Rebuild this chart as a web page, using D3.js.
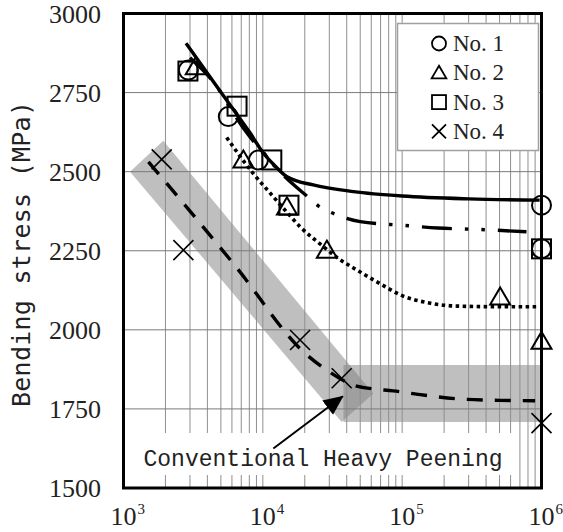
<!DOCTYPE html>
<html>
<head>
<meta charset="utf-8">
<script src="https://cdn.jsdelivr.net/npm/d3@7"></script>
<style>
	html, body { margin: 0; padding: 0; background: #fff; }
	svg { display: block; }
</style>
</head>
<body>
<div id="chartContainer"></div>
<script>
"use strict";

// cycles (x) and bending stress in MPa (y)
var no1Points = [[2.92e3, 2821], [5.65e3, 2674], [9.3e3, 2537], [1e6, 2394], [1e6, 2256]];
var no2Points = [[3.3e3, 2832], [7.25e3, 2537], [1.49e4, 2389], [2.88e4, 2252], [5.05e5, 2104], [1e6, 1964]];
var no3Points = [[2.9e3, 2818], [6.53e3, 2707], [1.16e4, 2537], [1.54e4, 2394], [1e6, 2256]];
var no4Points = [[1.88e3, 2539], [2.69e3, 2252], [1.85e4, 1968], [3.68e4, 1847], [1e6, 1705]];

var no1Curve = [[2.81e3, 2906], [4e3, 2811], [6e3, 2703], [8e3, 2626], [1.01e4, 2558], [1.2e4, 2522],
	[1.49e4, 2484], [2.3e4, 2458], [4.47e4, 2437], [1e5, 2423], [3e5, 2414], [9.7e5, 2410]];
var no2Curve = [[5.5e3, 2608], [8.5e3, 2495], [1.13e4, 2432], [1.5e4, 2370], [1.85e4, 2326], [2.6e4, 2270],
	[3.5e4, 2225], [4.9e4, 2185], [7e4, 2145], [1e5, 2108], [1.6e5, 2084], [2.5e5, 2075], [5e5, 2073], [9.5e5, 2073]];
var no3Curve = [[3.0e3, 2860], [4.3e3, 2790], [7.2e3, 2640], [1.2e4, 2520], [1.65e4, 2460], [2.07e4, 2423],
	[2.5e4, 2392], [3.13e4, 2370], [5e4, 2342], [1.05e5, 2330], [1.8e5, 2322], [3.7e5, 2317], [7.8e5, 2310]];
var no4Curve = [[1.51e3, 2531], [6.5e3, 2196], [1.95e4, 1931], [3.13e4, 1862], [4.47e4, 1825], [6e4, 1814],
	[8.65e4, 1807], [1.3e5, 1796], [2.5e5, 1782], [5e5, 1777], [9e5, 1776]];

// grey bands of conventional heavy peening
var bandDiagonal = [[1.114e3, 2500], [1.93e3, 2598], [6.21e4, 1799], [3.68e4, 1709]];
var bandFlat = [[3.79e4, 1889], [1e6, 1889], [1e6, 1709], [3.79e4, 1709]];
var arrowFrom = [1.19e4, 1625];
var arrowTo = [3.75e4, 1790];

var yTicks = [1500, 1750, 2000, 2250, 2500, 2750, 3000];
var xExponents = [3, 4, 5, 6];
var legendLabels = ["No. 1", "No. 2", "No. 3", "No. 4"];
var bandLabel = "Conventional Heavy Peening";
var yTitle = "Bending stress (MPa)";

const width = 563, height = 532;
const plot = {left: 123.5, right: 541.5, top: 13.5, bottom: 488};

let x = d3.scaleLog().domain([1e3, 1e6]).range([plot.left, plot.right]);
let y = d3.scaleLinear().domain([1500, 3000]).range([plot.bottom, plot.top]);

let svg = d3.select("#chartContainer")
	.append("svg")
	.attr("width", width)
	.attr("height", height);

let pt = d => [x(d[0]), y(d[1])];

// bands first, grid runs over them
svg.selectAll("path.band")
	.data([bandDiagonal, bandFlat])
	.enter()
	.append("path")
	.attr("class", "band")
	.attr("d", d => "M" + d.map(pt).join("L") + "Z")
	.attr("fill", "#808080")
	.attr("fill-opacity", 0.5);

// log grid: 2..9 in every decade
let minorX = [];
[1e3, 1e4, 1e5].forEach(dec => {
	for (let k = 1; k < 10; k++) minorX.push(dec * k);
});
minorX = minorX.filter(v => v > 1e3);

svg.append("g")
	.selectAll("line")
	.data(minorX)
	.enter()
	.append("line")
	.attr("x1", d => x(d)).attr("x2", d => x(d))
	.attr("y1", plot.top).attr("y2", plot.bottom)
	.attr("stroke", "#8f8f8f")
	.attr("stroke-width", 1);

svg.append("g")
	.selectAll("line")
	.data(yTicks.slice(1, -1))
	.enter()
	.append("line")
	.attr("x1", plot.left).attr("x2", plot.right)
	.attr("y1", d => y(d)).attr("y2", d => y(d))
	.attr("stroke", "#7a7a7a")
	.attr("stroke-width", 1);

// white patch behind the band label
svg.append("rect")
	.attr("x", plot.left)
	.attr("y", 433)
	.attr("width", 514 - plot.left)
	.attr("height", 42)
	.attr("fill", "#fff");

let line = d3.line()
	.x(d => x(d[0]))
	.y(d => y(d[1]))
	.curve(d3.curveMonotoneX);

let curves = [
	{data: no1Curve, dash: null, w: 3.4},
	{data: no2Curve, dash: "3.5,3.5", w: 3.6},
	{data: no3Curve, dash: "30,13,3.5,13,3.5,13", w: 3.4},
	{data: no4Curve, dash: "16,12", w: 3.4}
];

svg.append("g")
	.selectAll("path")
	.data(curves)
	.enter()
	.append("path")
	.attr("d", d => line(d.data))
	.attr("fill", "none")
	.attr("stroke", "#000")
	.attr("stroke-width", d => d.w)
	.attr("stroke-dasharray", d => d.dash);

// marker shapes, s = half size
function drawMarker(g, kind, s, sw) {
	if (kind === 0) {
		g.append("circle").attr("r", s);
	} else if (kind === 1) {
		g.append("path").attr("d", `M0,${-s}L${s * 1.05},${s * 0.8}L${-s * 1.05},${s * 0.8}Z`);
	} else if (kind === 2) {
		g.append("rect").attr("x", -s).attr("y", -s).attr("width", 2 * s).attr("height", 2 * s);
	} else {
		g.append("path").attr("d", `M${-s},${-s}L${s},${s}M${s},${-s}L${-s},${s}`);
	}
	g.selectAll("*")
		.attr("fill", "none")
		.attr("stroke", "#000")
		.attr("stroke-width", sw);
}

[no1Points, no2Points, no3Points, no4Points].forEach((pts, i) => {
	pts.forEach(p => {
		let g = svg.append("g").attr("transform", `translate(${x(p[0])},${y(p[1])})`);
		drawMarker(g, i, i === 3 ? 10 : 9.5, i === 3 ? 1.6 : 2);
	});
});

// frame
svg.append("rect")
	.attr("x", plot.left)
	.attr("y", plot.top)
	.attr("width", plot.right - plot.left)
	.attr("height", plot.bottom - plot.top)
	.attr("fill", "none")
	.attr("stroke", "#000")
	.attr("stroke-width", 3);

// legend
let legend = svg.append("g");
legend.append("rect")
	.attr("x", 397.5).attr("y", 23.5)
	.attr("width", 141).attr("height", 127)
	.attr("fill", "#fff")
	.attr("stroke", "#a0a0a0")
	.attr("stroke-width", 1.5);

legendLabels.forEach((label, i) => {
	let cy = 43.5 + i * 29.3;
	let g = legend.append("g").attr("transform", `translate(439,${cy})`);
	drawMarker(g, i, 7, 1.8);
	legend.append("text")
		.attr("x", 453)
		.attr("y", cy + 7.5)
		.attr("font-family", "Liberation Serif, serif")
		.attr("font-size", 23)
		.attr("fill", "#222")
		.text(label);
});

// arrow to the band
svg.append("defs")
	.append("marker")
	.attr("id", "head")
	.attr("markerUnits", "userSpaceOnUse")
	.attr("viewBox", "0 0 20 18")
	.attr("refX", 19).attr("refY", 9)
	.attr("markerWidth", 20).attr("markerHeight", 18)
	.attr("orient", "auto")
	.append("path")
	.attr("d", "M0,0L20,9L0,18Z")
	.attr("fill", "#000");

svg.append("line")
	.attr("x1", x(arrowFrom[0])).attr("y1", y(arrowFrom[1]))
	.attr("x2", x(arrowTo[0])).attr("y2", y(arrowTo[1]))
	.attr("stroke", "#000")
	.attr("stroke-width", 2)
	.attr("marker-end", "url(#head)");

svg.append("text")
	.attr("x", 143.5)
	.attr("y", 466)
	.attr("font-family", "Liberation Mono, monospace")
	.attr("font-size", 23)
	.attr("fill", "#222")
	.attr("textLength", 359)
	.text(bandLabel);

// tick labels
svg.append("g")
	.selectAll("text")
	.data(yTicks)
	.enter()
	.append("text")
	.attr("x", 101)
	.attr("y", d => y(d))
	.attr("dy", "0.35em")
	.attr("text-anchor", "end")
	.attr("font-family", "Liberation Serif, serif")
	.attr("font-size", 26)
	.attr("fill", "#222")
	.text(d => d);

let xl = svg.append("g");
xExponents.forEach(e => {
	let px = x(Math.pow(10, e));
	xl.append("text")
		.attr("x", px)
		.attr("y", 525)
		.attr("text-anchor", "middle")
		.attr("font-family", "Liberation Serif, serif")
		.attr("font-size", 26)
		.attr("fill", "#222")
		.text("10");
	xl.append("text")
		.attr("x", px + 14)
		.attr("y", 514)
		.attr("font-family", "Liberation Serif, serif")
		.attr("font-size", 15)
		.attr("fill", "#222")
		.text(e);
});

svg.append("text")
	.attr("transform", "translate(30,254) rotate(-90)")
	.attr("text-anchor", "middle")
	.attr("font-family", "DejaVu Sans Mono, monospace")
	.attr("font-size", 25)
	.attr("fill", "#222")
	.attr("textLength", 306)
	.text(yTitle);
</script>
</body>
</html>
